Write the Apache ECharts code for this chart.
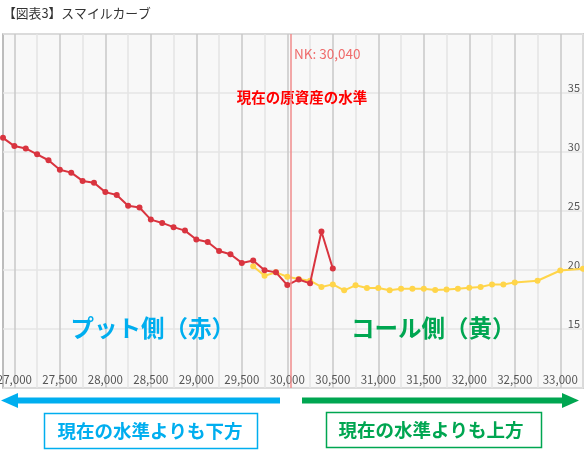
<!DOCTYPE html>
<html>
<head>
<meta charset="utf-8">
<script src="https://cdn.jsdelivr.net/npm/echarts@6/dist/echarts.min.js"></script>
<style>
html,body{margin:0;padding:0;background:#fff;}
#c{width:584px;height:450px;}
</style>
</head>
<body>
<div id="c"></div>
<script>
// ---- data ----
var putStrikes = [26875,27000,27125,27250,27375,27500,27625,27750,27875,28000,28125,28250,28375,28500,28625,28750,28875,29000,29125,29250,29375,29500,29625,29750,29875,30000,30125,30250,30375,30500];
var putIV = [31.2,30.5,30.3,29.8,29.3,28.5,28.25,27.55,27.4,26.6,26.35,25.45,25.3,24.27,23.99,23.63,23.34,22.59,22.37,21.61,21.33,20.6,20.8,19.98,19.8,18.72,19.2,18.87,23.26,20.13];
var callStrikes = [29625,29750,29875,30000,30125,30250,30375,30500,30625,30750,30875,31000,31125,31250,31375,31500,31625,31750,31875,32000,32125,32250,32375,32500,32750,33000,33250];
var callIV = [20.32,19.51,19.8,19.43,19.23,19.09,18.56,18.78,18.28,18.7,18.47,18.47,18.28,18.42,18.42,18.42,18.3,18.34,18.42,18.5,18.56,18.78,18.78,18.95,19.09,19.96,20.1];
var nkLevel = 30040;
var xMin = 26875, xMax = 33250;
var yMin = 10, yMax = 40;

var FONT = '"Noto Sans CJK JP", "Noto Sans", sans-serif';
var BLUE = '#00aeef', GREEN = '#00a651';

function pairs(xs, ys){ return xs.map(function(x,i){ return [x, ys[i]]; }); }
function fmt(v){ return String(v).replace(/\B(?=(\d{3})+(?!\d))/g, ','); }

var chart = echarts.init(document.getElementById('c'), null, {renderer:'canvas'});
var option = {
  animation: false,
  title: {
    text: '【図表3】スマイルカーブ', left: -2, top: 2,
    textStyle: {fontFamily: FONT, fontSize: 12.8, fontWeight: 'normal', color: '#333'}
  },
  grid: {
    left: 3, right: 1, top: 34, bottom: 62,
    outerBoundsMode: 'none', containLabel: false,
    show: true, backgroundColor: '#f8f8f8', borderColor: '#a8a8a8', borderWidth: 1.5
  },
  xAxis: {
    type: 'value', min: xMin, max: xMax, interval: 125,
    axisLine: {show: false}, axisTick: {show: false},
    axisLabel: {
      inside: true, margin: 3, color: '#555', fontSize: 11.5, fontFamily: FONT,
      showMinLabel: true, showMaxLabel: false,
      formatter: function(v){ return (v % 500 === 0) ? fmt(v) : ''; }
    },
    splitLine: {show: true, lineStyle: {color: ['rgba(0,0,0,0)', '#c8c8c8', 'rgba(0,0,0,0)', '#e4e4e4'], width: 1.5}}
  },
  yAxis: {
    type: 'value', position: 'right', min: yMin, max: yMax, interval: 5,
    axisLine: {show: false}, axisTick: {show: false},
    axisLabel: {
      inside: true, margin: 3, color: '#555', fontSize: 11, fontFamily: FONT,
      verticalAlign: 'bottom', showMinLabel: false, showMaxLabel: false
    },
    splitLine: {show: true, lineStyle: {color: '#e6e6e6', width: 1.5}}
  },
  series: [
    {
      name: 'put', type: 'line', data: pairs(putStrikes, putIV),
      symbol: 'circle', symbolSize: 6, z: 3,
      lineStyle: {color: '#d9343f', width: 2}, itemStyle: {color: '#d9343f'},
      markLine: {
        silent: true, symbol: 'none', label: {show: false},
        lineStyle: {color: '#f08c8c', width: 1.5, type: 'solid'},
        data: [{xAxis: nkLevel}]
      }
    },
    {
      name: 'call', type: 'line', data: pairs(callStrikes, callIV),
      symbol: 'circle', symbolSize: 6, z: 2,
      lineStyle: {color: '#ffd54a', width: 2}, itemStyle: {color: '#ffd54a'}
    }
  ]
};
chart.setOption(option);

var lx = chart.convertToPixel({xAxisIndex: 0}, nkLevel);
var putCenter = chart.convertToPixel({xAxisIndex: 0}, 28520);
var callCenter = chart.convertToPixel({xAxisIndex: 0}, 31605);
var labelY = chart.convertToPixel({yAxisIndex: 0}, 15.1);

chart.setOption({
  graphic: [
    {type: 'text', left: lx + 3, top: 47, style: {text: 'NK: ' + fmt(nkLevel), fill: '#ef6b6b', font: '13.5px ' + FONT}},
    {type: 'text', x: lx + 11, y: 97, style: {text: '現在の原資産の水準', fill: '#ff0000', font: 'bold 14.5px ' + FONT, align: 'center', verticalAlign: 'middle'}},
    {type: 'text', x: putCenter, y: labelY, style: {text: 'プット側（赤）', fill: BLUE, font: 'bold 23.5px ' + FONT, align: 'center', verticalAlign: 'middle'}},
    {type: 'text', x: callCenter, y: labelY, style: {text: 'コール側（黄）', fill: GREEN, font: 'bold 23.5px ' + FONT, align: 'center', verticalAlign: 'middle'}},
    // left arrow (blue)
    {type: 'rect', shape: {x: 14, y: 397.5, width: 266, height: 6}, style: {fill: BLUE}},
    {type: 'polygon', shape: {points: [[1, 400.5], [18, 393], [18, 408]]}, style: {fill: BLUE}},
    // right arrow (green)
    {type: 'rect', shape: {x: 302, y: 397.5, width: 264, height: 6}, style: {fill: GREEN}},
    {type: 'polygon', shape: {points: [[579, 400.5], [562, 393], [562, 408]]}, style: {fill: GREEN}},
    // boxes
    {type: 'rect', shape: {x: 44.5, y: 413.5, width: 213, height: 35}, style: {fill: '#fff', stroke: BLUE, lineWidth: 1.5}},
    {type: 'text', x: 150, y: 431, style: {text: '現在の水準よりも下方', fill: BLUE, font: 'bold 18.5px ' + FONT, align: 'center', verticalAlign: 'middle'}},
    {type: 'rect', shape: {x: 326.5, y: 412.5, width: 215, height: 35}, style: {fill: '#fff', stroke: GREEN, lineWidth: 1.5}},
    {type: 'text', x: 431, y: 430, style: {text: '現在の水準よりも上方', fill: GREEN, font: 'bold 18.5px ' + FONT, align: 'center', verticalAlign: 'middle'}}
  ]
});
</script>
</body>
</html>
